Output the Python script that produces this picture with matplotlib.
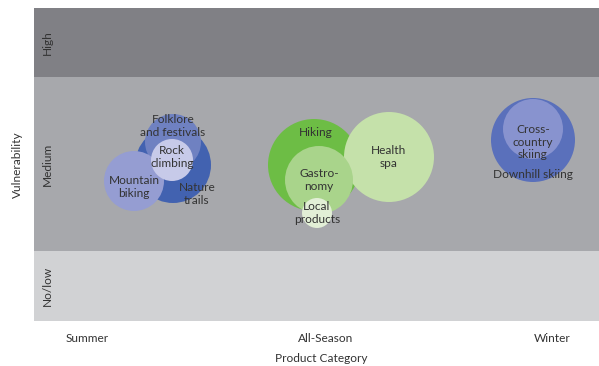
import matplotlib
matplotlib.use("Agg")
import matplotlib.pyplot as plt
from matplotlib.patches import Circle

plt.rcParams['font.family'] = ['Lato', 'DejaVu Sans']

# Axis categories
categories = ["Summer", "All-Season", "Winter"]
category_pos = [53, 292, 518]
levels = ["No/low", "Medium", "High"]
level_bounds = [(0, 70), (70, 244), (244, 313)]
level_colors = ["#d1d2d4", "#a7a8ac", "#808085"]

# Bubbles (x, y, radius) in chart units
names = ["Nature trails", "Folklore and festivals", "Mountain biking", "Rock climbing",
         "Hiking", "Health spa", "Gastronomy", "Local products",
         "Downhill skiing", "Cross-country skiing"]
bx = [139, 139, 100, 138, 280, 355, 285, 283, 499, 499]
by = [156, 179, 140, 161, 156, 164, 141, 108, 181, 192]
br = [38, 28, 30, 21, 46, 45, 34, 15, 42, 30]
colors = ["#4262b0", "#6f81c1", "#959dd2", "#c7cae9",
          "#6dbd45", "#c5e1aa", "#a9d48b", "#e2efd6",
          "#5a70bb", "#8893cf"]

# Labels (text, x, y)
label_text = ["Nature\ntrails", "Folklore\nand festivals", "Mountain\nbiking", "Rock\nclimbing",
              "Hiking", "Health\nspa", "Gastro-\nnomy", "Local\nproducts",
              "Downhill skiing", "Cross-\ncountry\nskiing"]
lx = [163, 139, 100, 138, 282, 355, 285, 283, 499, 499]
ly = [127, 195, 134, 164, 188, 164, 141, 108, 147, 179]

fig = plt.figure(figsize=(5.99, 3.66), dpi=100)
ax = fig.add_axes([34/599, (366-321)/366, 565/599, 313/366])
ax.set_xlim(0, 565)
ax.set_ylim(0, 313)

for (lo, hi), c in zip(level_bounds, level_colors):
    ax.axhspan(lo, hi, color=c, lw=0, zorder=0)

for i in range(len(names)):
    ax.add_patch(Circle((bx[i], by[i]), br[i], facecolor=colors[i], edgecolor='none', zorder=2 + i))

tc = "#333333"
fs = 8.6
for t, x, y in zip(label_text, lx, ly):
    ax.text(x, y, t, ha='center', va='center', fontsize=fs, color=tc,
            linespacing=1.12, zorder=30)

for lev, (lo, hi) in zip(levels, level_bounds):
    ax.text(13, (lo + hi) / 2, lev, rotation=90, ha='center', va='center',
            fontsize=fs, color=tc, zorder=30)

for c, x in zip(categories, category_pos):
    ax.text(x, -18, c, ha='center', va='center', fontsize=fs, color=tc, clip_on=False)

ax.text(287, -38, "Product Category", ha='center', va='center', fontsize=fs, color=tc, clip_on=False)
ax.text(-17, 156, "Vulnerability", rotation=90, ha='center', va='center', fontsize=fs, color=tc, clip_on=False)

ax.set_xticks([])
ax.set_yticks([])
for s in ax.spines.values():
    s.set_visible(False)

fig.savefig("out.png", dpi=100)
